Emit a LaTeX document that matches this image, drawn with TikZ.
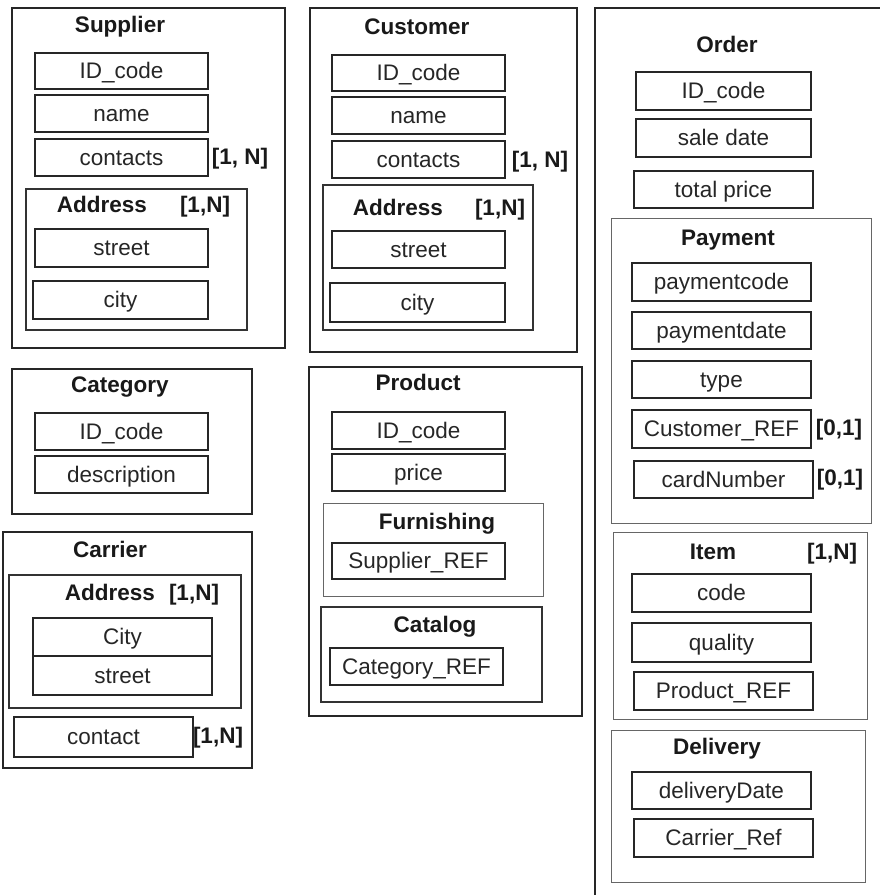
\documentclass[tikz,border=0pt]{standalone}
\usepackage{fontspec}
\setmainfont{Liberation Sans}
\tikzset{
 base/.style={rectangle, inner sep=0pt, outer sep=0pt},
 attr/.style={base, draw=black!85, line width=1.4pt, text=black!85, font=\fontsize{22.5}{26}\selectfont, text height=16pt, text depth=1pt},
 entity/.style={base, draw=black!85, line width=1.6pt},
 group/.style={base, draw=black!80, line width=1.2pt},
 lgroup/.style={base, draw=black!60, line width=0.9pt},
 ttl/.style={font=\fontsize{22.5}{26}\selectfont\bfseries, text=black!90, inner sep=0pt, text height=16pt, text depth=1pt},
 card/.style={ttl},
}
\newcommand{\abox}[7][attr]{\node[#1, minimum width={(#5)-(#3)}, minimum height={(#6)-(#4)}] (#2) at ({((#3)+(#5))/2},{((#4)+(#6))/2}) {#7};}
\begin{document}
\begin{tikzpicture}[x=1pt,y=-1pt]
\useasboundingbox (0,0) rectangle (879,895);
% Supplier
\abox[entity]{sup}{12}{8}{285}{348}{}
\node[ttl] (supT) at (120,25) {Supplier};
\abox{supId}{35}{53}{208}{89}{ID\_code}
\abox{supName}{35}{95}{208}{132}{name}
\abox{supCont}{35}{139}{208}{176}{contacts}
\node[card] (supCard) at (240,157) {[1, N]};
\abox[group]{supAddr}{26}{189}{247}{330}{}
\node[ttl] (supAddrT) at (102,205) {Address};
\node[card] (supAddrC) at (205,205) {[1,N]};
\abox{supStreet}{35}{229}{208}{267}{street}
\abox{supCity}{33}{281}{208}{319}{city}
% Customer
\abox[entity]{cus}{310}{8}{577}{352}{}
\node[ttl] (cusT) at (417,27) {Customer};
\abox{cusId}{332}{55}{505}{91}{ID\_code}
\abox{cusName}{332}{97}{505}{134}{name}
\abox{cusCont}{332}{141}{505}{178}{contacts}
\node[card] (cusCard) at (540,160) {[1, N]};
\abox[group]{cusAddr}{323}{185}{533}{330}{}
\node[ttl] (cusAddrT) at (398,208) {Address};
\node[card] (cusAddrC) at (500,208) {[1,N]};
\abox{cusStreet}{332}{231}{505}{268}{street}
\abox{cusCity}{330}{283}{505}{322}{city}
% Order
\coordinate (ordA) at (595,895);
\coordinate (ordB) at (595,8);
\coordinate (ordC) at (881,8);
\draw[draw=black!85, line width=1.6pt] (ordA) -- (ordB) -- (ordC);
\node[ttl] (ordT) at (727,45) {Order};
\abox{ordId}{636}{72}{811}{110}{ID\_code}
\abox{ordDate}{636}{119}{811}{157}{sale date}
\abox{ordPrice}{634}{171}{813}{208}{total price}
\abox[lgroup]{pay}{611}{218}{871}{523}{}
\node[ttl] (payT) at (728,238) {Payment};
\abox{payCode}{632}{263}{811}{301}{paymentcode}
\abox{payDate}{632}{312}{811}{349}{paymentdate}
\abox{payType}{632}{361}{811}{398}{type}
\abox{payCus}{632}{410}{811}{448}{Customer\_REF}
\node[card] (payCusC) at (839,428) {[0,1]};
\abox{payCard}{634}{461}{813}{498}{cardNumber}
\node[card] (payCardC) at (840,478) {[0,1]};
\abox[lgroup]{item}{613}{532}{867}{719}{}
\node[ttl] (itemT) at (713,552) {Item};
\node[card] (itemC) at (832,552) {[1,N]};
\abox{itemCode}{632}{574}{811}{612}{code}
\abox{itemQual}{632}{623}{811}{662}{quality}
\abox{itemProd}{634}{672}{813}{710}{Product\_REF}
\abox[lgroup]{del}{611}{730}{865}{882}{}
\node[ttl] (delT) at (717,747) {Delivery};
\abox{delDate}{632}{772}{811}{809}{deliveryDate}
\abox{delCar}{634}{819}{813}{857}{Carrier\_Ref}
% Category
\abox[entity]{cat}{12}{369}{252}{514}{}
\node[ttl] (catT) at (120,385) {Category};
\abox{catId}{35}{413}{208}{450}{ID\_code}
\abox{catDesc}{35}{456}{208}{493}{description}
% Carrier
\abox[entity]{car}{3}{532}{252}{768}{}
\node[ttl] (carT) at (110,550) {Carrier};
\abox[group]{carAddr}{9}{575}{241}{708}{}
\node[ttl] (carAddrT) at (110,593) {Address};
\node[card] (carAddrC) at (194,593) {[1,N]};
\abox{carCity}{33}{618}{212}{656}{City}
\abox{carStreet}{33}{656}{212}{695}{street}
\abox{carCont}{14}{717}{193}{757}{contact}
\node[card] (carContC) at (218,736) {[1,N]};
% Product
\abox[entity]{prod}{309}{367}{582}{716}{}
\node[ttl] (prodT) at (418,383) {Product};
\abox{prodId}{332}{412}{505}{449}{ID\_code}
\abox{prodPrice}{332}{454}{505}{491}{price}
\abox[lgroup]{furn}{323}{503}{543}{596}{}
\node[ttl] (furnT) at (437,522) {Furnishing};
\abox{furnSup}{332}{543}{505}{579}{Supplier\_REF}
\abox[group]{catl}{321}{607}{542}{702}{}
\node[ttl] (catlT) at (435,625) {Catalog};
\abox{catlCat}{330}{648}{503}{685}{Category\_REF}
\end{tikzpicture}
\end{document}
